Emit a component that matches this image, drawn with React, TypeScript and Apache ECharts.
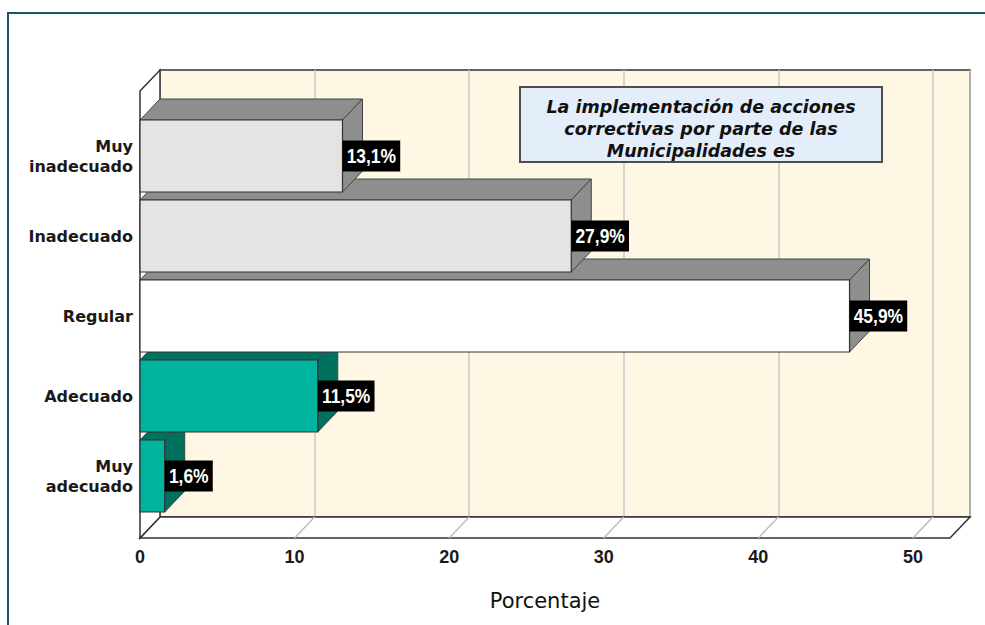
import React, { useEffect, useRef } from "react";
import * as echarts from "echarts";

// ---- data ----
const categories = ["Muy\ninadecuado", "Inadecuado", "Regular", "Adecuado", "Muy\nadecuado"];
const percentages = [13.1, 27.9, 45.9, 11.5, 1.6];
const tickValues = [0, 10, 20, 30, 40, 50];
const axisTitle = "Porcentaje";
const boxTitleLines = ["La implementación de acciones", "correctivas por parte de las", "Municipalidades es"];

// ---- styles / layout ----
const FRONT_COLORS = ["#e6e3e3", "#e6e3e3", "#ffffff", "#00b39e", "#00b39e"];
const SIDE_COLORS = ["#8e8e8e", "#8e8e8e", "#8e8e8e", "#00705f", "#00705f"];
const XMAX = 52.4;
const DX = 20;
const DY = 21;
const PLOT_LEFT = 140;
const PLOT_W = 810;

export default function App() {
  const ref = useRef<HTMLDivElement>(null);
  useEffect(() => {
    if (!ref.current) return;
    const chart = echarts.init(ref.current, null, { renderer: "svg" });
    const n = categories.length;
    const option: any = {
      animation: false,
      backgroundColor: "#ffffff",
      grid: [
        { left: PLOT_LEFT, top: 116, width: PLOT_W, height: 400 },
        {
          left: PLOT_LEFT + DX, top: 70, width: PLOT_W, height: 447, show: true,
          backgroundColor: "#fdf7e4", borderColor: "#333333", borderWidth: 1.5,
        },
        { left: PLOT_LEFT, top: 91, width: PLOT_W, height: 447 },
      ],
      xAxis: [
        { gridIndex: 0, type: "value", min: 0, max: XMAX, show: false },
        {
          gridIndex: 1, type: "value", min: 0, max: XMAX, interval: 10,
          axisLine: { show: false }, axisTick: { show: false }, axisLabel: { show: false },
          splitLine: { show: true, lineStyle: { color: "#c9c9c9", width: 1.5 } },
        },
        {
          gridIndex: 2, type: "value", min: 0, max: XMAX, interval: 10,
          axisLine: { show: false }, axisTick: { show: false }, splitLine: { show: false },
          axisLabel: {
            margin: 10, fontFamily: "'Liberation Sans', Arial, sans-serif", fontWeight: "bold",
            fontSize: 18, color: "#1a1a1a",
            formatter: (v: number) => (tickValues.indexOf(v) >= 0 ? String(v) : ""),
          },
          name: axisTitle, nameLocation: "middle", nameGap: 52,
          nameTextStyle: { fontFamily: "'DejaVu Sans', sans-serif", fontSize: 21, color: "#111111" },
        },
      ],
      yAxis: [
        {
          gridIndex: 0, type: "category", data: categories, inverse: true,
          axisLine: { show: false }, axisTick: { show: false }, splitLine: { show: false },
          axisLabel: {
            margin: 7, fontFamily: "'DejaVu Sans', sans-serif", fontWeight: "bold", fontSize: 16,
            color: "#1a1a1a", lineHeight: 20, align: "right",
          },
        },
        { gridIndex: 1, type: "value", min: 0, max: 1, show: false },
        { gridIndex: 2, type: "value", min: 0, max: 1, show: false },
      ],
      graphic: [
        {
          type: "rect", z: 100, silent: true,
          shape: { x: 8, y: 13, width: 1200, height: 900 },
          style: { fill: "none", stroke: "#1b5468", lineWidth: 2 },
        },
        {
          type: "rect", z: 100, silent: true,
          shape: { x: 520, y: 87, width: 362, height: 75 },
          style: { fill: "#e3eefa", stroke: "#4d4d4d", lineWidth: 2 },
        },
        {
          type: "text", z: 101, silent: true, x: 701, y: 128.5,
          style: {
            text: boxTitleLines.join("\n"), fill: "#111111",
            font: "italic bold 17.5px 'DejaVu Sans', sans-serif",
            align: "center", verticalAlign: "middle", textAlign: "center", textVerticalAlign: "middle",
            lineHeight: 22,
          },
        },
      ],
      series: [
        {
          type: "custom", name: "floor", xAxisIndex: 2, yAxisIndex: 2, silent: true,
          data: tickValues.map((v) => [v, 0]),
          renderItem: (params: any, api: any) => {
            const v = api.value(0);
            const p = api.coord([v, 0]);
            const children: any[] = [];
            if (params.dataIndex === 0) {
              const pEnd = api.coord([XMAX, 0]);
              const pTop = api.coord([0, 1]);
              children.push({
                type: "polygon", z2: 0,
                shape: { points: [[p[0], p[1]], [p[0] + DX, p[1] - DY], [pEnd[0] + DX, pEnd[1] - DY], [pEnd[0], pEnd[1]]] },
                style: { fill: "#ffffff", stroke: "#333333", lineWidth: 1.5 },
              });
              children.push({
                type: "polygon", z2: 0,
                shape: { points: [[pTop[0], pTop[1]], [pTop[0] + DX, pTop[1] - DY], [p[0] + DX, p[1] - DY], [p[0], p[1]]] },
                style: { fill: "#ffffff", stroke: "#333333", lineWidth: 1.5 },
              });
            }
            if (v > 0) {
              children.push({
                type: "line", z2: 1,
                shape: { x1: p[0], y1: p[1], x2: p[0] + DX, y2: p[1] - DY },
                style: { stroke: "#bdbdbd", lineWidth: 1.5 },
              });
            }
            return { type: "group", children };
          },
        },
        {
          type: "custom", name: "bars", xAxisIndex: 0, yAxisIndex: 0, silent: true,
          data: percentages.map((v, i) => [v, i]),
          renderItem: (params: any, api: any) => {
            const i = params.dataIndex;
            const v = api.value(0);
            const c = api.value(1);
            const p0 = api.coord([0, c]);
            const p1 = api.coord([v, c]);
            const h = api.size([0, 1])[1] * 0.9;
            const x0 = p0[0];
            const x1 = p1[0];
            const top = p1[1] - h / 2;
            const bottom = p1[1] + h / 2;
            const zb = (n - i) * 10;
            const label = v.toFixed(1).replace(".", ",") + "%";
            return {
              type: "group",
              children: [
                {
                  type: "polygon", z2: zb,
                  shape: { points: [[x0, top], [x0 + DX, top - DY], [x1 + DX, top - DY], [x1, top]] },
                  style: { fill: SIDE_COLORS[i], stroke: "#444444", lineWidth: 1 },
                },
                {
                  type: "polygon", z2: zb,
                  shape: { points: [[x1, top], [x1 + DX, top - DY], [x1 + DX, bottom - DY], [x1, bottom]] },
                  style: { fill: SIDE_COLORS[i], stroke: "#444444", lineWidth: 1 },
                },
                {
                  type: "rect", z2: zb + 1,
                  shape: { x: x0, y: top, width: x1 - x0, height: h },
                  style: { fill: FRONT_COLORS[i], stroke: "#333333", lineWidth: 1.2 },
                },
                {
                  type: "text", z2: 200, x: x1, y: p1[1], scaleX: 0.83, scaleY: 1,
                  style: {
                    text: label, fill: "#ffffff", backgroundColor: "#000000",
                    padding: [5, 5, 5, 5], lineHeight: 21,
                    fontSize: 21, fontWeight: "bold",
                    fontFamily: "'Liberation Sans', Arial, sans-serif",
                    align: "left", verticalAlign: "middle",
                  },
                },
              ],
            };
          },
        },
      ],
    };
    chart.setOption(option);
    return () => chart.dispose();
  }, []);
  return (
    <div
      ref={ref}
      style={{ position: "fixed", left: 0, top: 0, width: 985, height: 625, background: "#ffffff" }}
    />
  );
}
